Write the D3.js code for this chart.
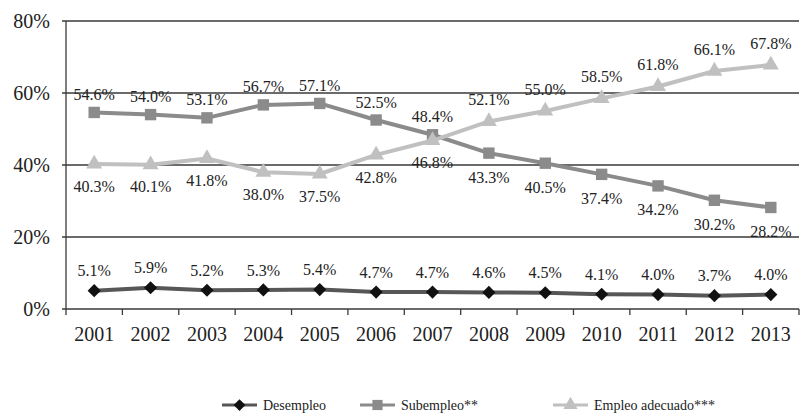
<!DOCTYPE html>
<html>
<head>
<meta charset="utf-8">
<script src="https://cdn.jsdelivr.net/npm/d3@7"></script>
<style>
  html, body { margin: 0; padding: 0; background: #fff; }
</style>
</head>
<body>
<svg id="chart" width="801" height="418"></svg>
<script>
// Labour market shares, 2001-2013 (percent)
const years = ["2001","2002","2003","2004","2005","2006","2007","2008","2009","2010","2011","2012","2013"];
const desempleo = [5.1, 5.9, 5.2, 5.3, 5.4, 4.7, 4.7, 4.6, 4.5, 4.1, 4.0, 3.7, 4.0];
const subempleo = [54.6, 54.0, 53.1, 56.7, 57.1, 52.5, 48.4, 43.3, 40.5, 37.4, 34.2, 30.2, 28.2];
const empleoAdecuado = [40.3, 40.1, 41.8, 38.0, 37.5, 42.8, 46.8, 52.1, 55.0, 58.5, 61.8, 66.1, 67.8];
const yTicks = [0, 20, 40, 60, 80];
const seriesNames = ["Desempleo", "Subempleo**", "Empleo adecuado***"];

// label placement: +1 above the point, -1 below
const subLabelSide = [1,1,1,1,1,1,1,-1,-1,-1,-1,-1,-1];
const empLabelSide = [-1,-1,-1,-1,-1,-1,-1,1,1,1,1,1,1];
const desLabelSide = years.map(() => 1);

const FONT = "'Liberation Serif', 'Times New Roman', serif";

const svg = d3.select("#chart");
const margin = { left: 66, right: 2, top: 21, bottom: 109 };
const W = 801, H = 418;

const x = d3.scaleBand().domain(years).range([margin.left, W - margin.right]).padding(0);
const y = d3.scaleLinear().domain([0, 80]).range([H - margin.bottom, margin.top]);
const cx = d => x(d) + x.bandwidth() / 2;

// horizontal gridlines (including the 0% baseline)
svg.append("g")
  .selectAll("line")
  .data(yTicks)
  .join("line")
  .attr("x1", margin.left - 4)
  .attr("x2", W - margin.right)
  .attr("y1", d => y(d))
  .attr("y2", d => y(d))
  .attr("stroke", "#3a3a3a")
  .attr("stroke-width", 1.3);

// left axis line
svg.append("line")
  .attr("x1", margin.left).attr("x2", margin.left)
  .attr("y1", y(80)).attr("y2", y(0))
  .attr("stroke", "#3a3a3a").attr("stroke-width", 1.3);

// y tick labels
svg.append("g")
  .selectAll("text")
  .data(yTicks)
  .join("text")
  .attr("x", 50)
  .attr("y", d => y(d))
  .attr("dy", "0.35em")
  .attr("text-anchor", "end")
  .attr("font-family", FONT)
  .attr("font-size", 20)
  .attr("fill", "#222")
  .text(d => d + "%");

// category boundary ticks on the x axis
const bounds = years.map(yv => x(yv)).concat([x(years[years.length - 1]) + x.bandwidth()]);
svg.append("g")
  .selectAll("line")
  .data(bounds)
  .join("line")
  .attr("x1", d => d).attr("x2", d => d)
  .attr("y1", y(0)).attr("y2", y(0) + 6)
  .attr("stroke", "#3a3a3a").attr("stroke-width", 1.3);

// year labels
svg.append("g")
  .selectAll("text")
  .data(years)
  .join("text")
  .attr("x", d => cx(d))
  .attr("y", y(0) + 25)
  .attr("dy", "0.35em")
  .attr("text-anchor", "middle")
  .attr("font-family", FONT)
  .attr("font-size", 20)
  .attr("fill", "#222")
  .text(d => d);

const line = d3.line().x(d => cx(d.year)).y(d => y(d.v));

const series = [
  { name: seriesNames[0], values: desempleo, color: "#575757", marker: d3.symbolDiamond2, markerColor: "#111", size: 110, sides: desLabelSide, offUp: 20, offDown: 22 },
  { name: seriesNames[1], values: subempleo, color: "#8b8b8b", marker: d3.symbolSquare, markerColor: "#8b8b8b", size: 130, sides: subLabelSide, offUp: 18, offDown: 24 },
  { name: seriesNames[2], values: empleoAdecuado, color: "#c0c0c0", marker: d3.symbolTriangle, markerColor: "#c0c0c0", size: 110, sides: empLabelSide, offUp: 22, offDown: 22 }
];

series.forEach(s => {
  const pts = s.values.map((v, i) => ({ year: years[i], v, side: s.sides[i] }));
  const g = svg.append("g");
  g.append("path")
    .datum(pts)
    .attr("d", line)
    .attr("fill", "none")
    .attr("stroke", s.color)
    .attr("stroke-width", 4)
    .attr("stroke-linejoin", "round");
  g.selectAll("path.m")
    .data(pts)
    .join("path")
    .attr("class", "m")
    .attr("d", d3.symbol().type(s.marker).size(s.size))
    .attr("transform", d => `translate(${cx(d.year)},${y(d.v)})`)
    .attr("fill", s.markerColor);
  g.selectAll("text")
    .data(pts)
    .join("text")
    .attr("x", d => cx(d.year))
    .attr("y", d => y(d.v) - (d.side > 0 ? s.offUp : -s.offDown))
    .attr("dy", "0.35em")
    .attr("text-anchor", "middle")
    .attr("font-family", FONT)
    .attr("font-size", 16)
    .attr("fill", "#222")
    .text(d => d.v.toFixed(1) + "%");
});

// legend
const legendX = [222, 360, 553];
const legendY = 405;
const lg = svg.append("g");
series.forEach((s, i) => {
  const x0 = legendX[i];
  lg.append("line")
    .attr("x1", x0).attr("x2", x0 + 35)
    .attr("y1", legendY).attr("y2", legendY)
    .attr("stroke", s.color).attr("stroke-width", 3);
  lg.append("path")
    .attr("d", d3.symbol().type(s.marker).size(s.size * 0.8))
    .attr("transform", `translate(${x0 + 17.5},${legendY})`)
    .attr("fill", s.markerColor);
  lg.append("text")
    .attr("x", x0 + 41)
    .attr("y", legendY)
    .attr("dy", "0.35em")
    .attr("font-family", FONT)
    .attr("font-size", 14)
    .attr("fill", "#222")
    .text(s.name);
});
</script>
</body>
</html>
